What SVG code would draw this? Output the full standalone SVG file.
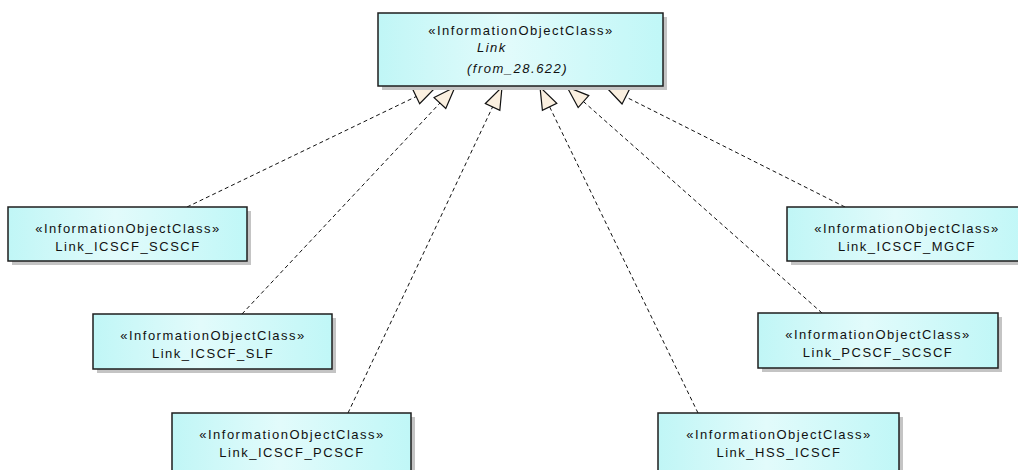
<svg xmlns="http://www.w3.org/2000/svg" width="1018" height="470" viewBox="0 0 1018 470">
<style>
.box{fill:url(#g);stroke:#1e1e1e;stroke-width:1.5}
.sh{fill:#c4c4c4}
.t{font-family:"Liberation Sans",Arial,sans-serif;font-size:13px;letter-spacing:1.5px;fill:#111;text-anchor:middle}
.ti{font-family:"Liberation Sans",Arial,sans-serif;font-size:13px;letter-spacing:1.5px;fill:#111;font-style:italic}
.c{fill:none;stroke:#111;stroke-width:1;stroke-dasharray:4 3;marker-end:url(#tri)}
</style>
<defs>
<linearGradient id="g" x1="0" y1="0" x2="1" y2="0">
<stop offset="0" stop-color="#c0f6f6"/>
<stop offset="0.45" stop-color="#e2fbfb"/>
<stop offset="1" stop-color="#c0f7f7"/>
</linearGradient>
<marker id="tri" markerUnits="userSpaceOnUse" markerWidth="30" markerHeight="30" refX="22" refY="9" orient="auto" overflow="visible">
<path d="M0,1 L22,9 L0,17 Z" fill="#fbf0e0" stroke="#111" stroke-width="1.2" stroke-dasharray="none"/>
</marker>
</defs>
<rect width="1018" height="470" fill="#fff"/>
<g id="connectors">
<path class="c" d="M187,207 L436,87"/>
<path class="c" d="M242,314 L455,87"/>
<path class="c" d="M348,413 L502,87"/>
<path class="c" d="M698,413 L540,87"/>
<path class="c" d="M822,313 L567,87"/>
<path class="c" d="M845,207 L606,87"/>
</g>
<g id="Link">
<rect class="sh" x="382" y="17" width="285" height="73"/>
<rect class="box" x="378" y="13" width="285" height="73"/>
<text class="t" x="521" y="35">«InformationObjectClass»</text>
<text class="ti" x="477" y="52">Link</text>
<text class="ti" x="467" y="73">(from_28.622)</text>
</g>
<g id="Link_ICSCF_SCSCF">
<rect class="sh" x="12" y="211" width="239" height="54"/>
<rect class="box" x="8" y="207" width="239" height="54"/>
<text class="t" x="128" y="233">«InformationObjectClass»</text>
<text class="t" x="128" y="251">Link_ICSCF_SCSCF</text>
</g>
<g id="Link_ICSCF_SLF">
<rect class="sh" x="97" y="318" width="239" height="55"/>
<rect class="box" x="93" y="314" width="239" height="55"/>
<text class="t" x="213" y="340">«InformationObjectClass»</text>
<text class="t" x="213" y="358">Link_ICSCF_SLF</text>
</g>
<g id="Link_ICSCF_PCSCF">
<rect class="sh" x="176" y="417" width="239" height="60"/>
<rect class="box" x="172" y="413" width="239" height="60"/>
<text class="t" x="292" y="439">«InformationObjectClass»</text>
<text class="t" x="292" y="457">Link_ICSCF_PCSCF</text>
</g>
<g id="Link_HSS_ICSCF">
<rect class="sh" x="662" y="417" width="241" height="60"/>
<rect class="box" x="658" y="413" width="241" height="60"/>
<text class="t" x="779" y="439">«InformationObjectClass»</text>
<text class="t" x="779" y="457">Link_HSS_ICSCF</text>
</g>
<g id="Link_PCSCF_SCSCF">
<rect class="sh" x="762" y="317" width="240" height="55"/>
<rect class="box" x="758" y="313" width="240" height="55"/>
<text class="t" x="878" y="339">«InformationObjectClass»</text>
<text class="t" x="878" y="357">Link_PCSCF_SCSCF</text>
</g>
<g id="Link_ICSCF_MGCF">
<rect class="sh" x="791" y="211" width="240" height="54"/>
<rect class="box" x="787" y="207" width="240" height="54"/>
<text class="t" x="907" y="233">«InformationObjectClass»</text>
<text class="t" x="907" y="251">Link_ICSCF_MGCF</text>
</g>
</svg>
